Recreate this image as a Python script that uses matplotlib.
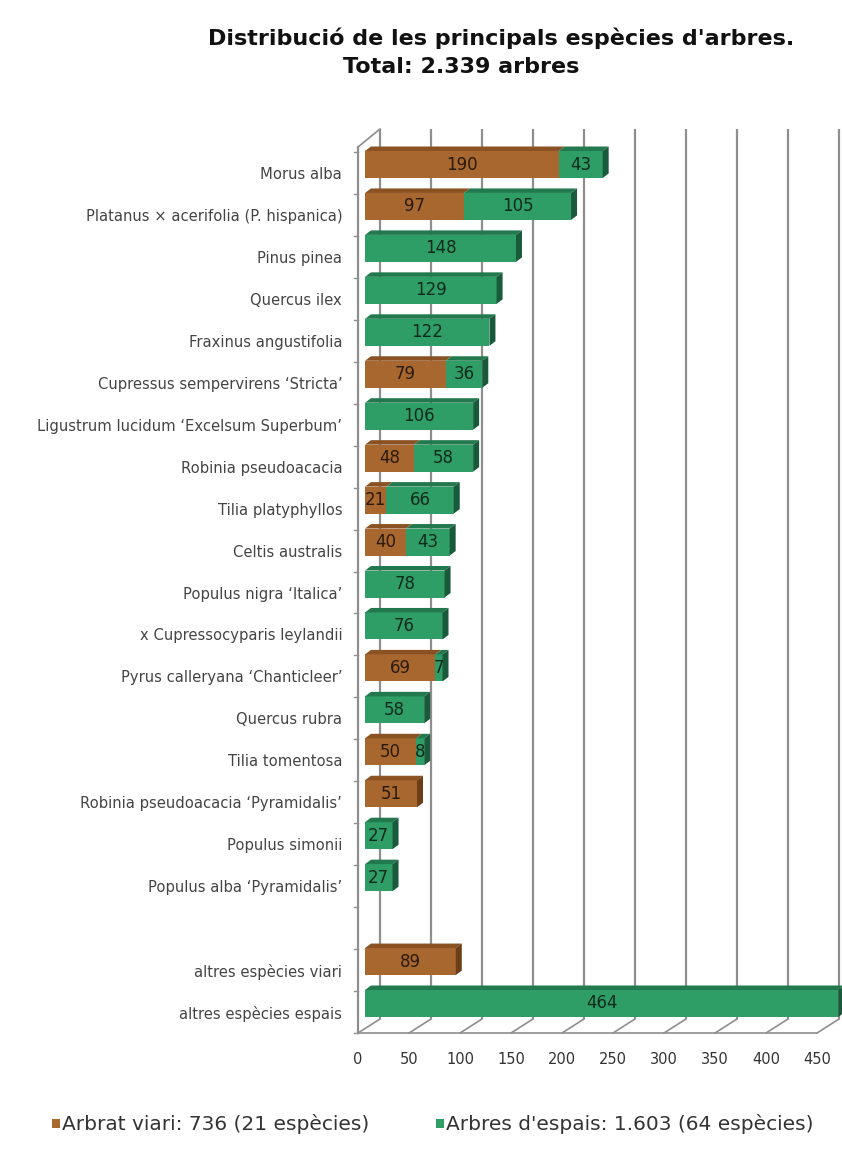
import numpy as np
import matplotlib
matplotlib.use("Agg")
import matplotlib.pyplot as plt
from matplotlib.patches import Polygon

# ---------------- data ----------------
categories = [
    "Morus alba",
    "Platanus × acerifolia (P. hispanica)",
    "Pinus pinea",
    "Quercus ilex",
    "Fraxinus angustifolia",
    "Cupressus sempervirens ‘Stricta’",
    "Ligustrum lucidum ‘Excelsum Superbum’",
    "Robinia pseudoacacia",
    "Tilia platyphyllos",
    "Celtis australis",
    "Populus nigra ‘Italica’",
    "x Cupressocyparis leylandii",
    "Pyrus calleryana ‘Chanticleer’",
    "Quercus rubra",
    "Tilia tomentosa",
    "Robinia pseudoacacia ‘Pyramidalis’",
    "Populus simonii",
    "Populus alba ‘Pyramidalis’",
    "",
    "altres espècies viari",
    "altres espècies espais",
]
viari = [190, 97, 0, 0, 0, 79, 0, 48, 21, 40, 0, 0, 69, 0, 50, 51, 0, 0, 0, 89, 0]
espais = [43, 105, 148, 129, 122, 36, 106, 58, 66, 43, 78, 76, 7, 58, 8, 0, 27, 27, 0, 0, 464]
xticks = [0, 50, 100, 150, 200, 250, 300, 350, 400, 450]
title_lines = ["Distribució de les principals espècies d'arbres.", "Total: 2.339 arbres"]
legend_labels = ["Arbrat viari: 736 (21 espècies)", "Arbres d'espais: 1.603 (64 espècies)"]

# ---------------- style ----------------
BROWN, BROWN_TOP, BROWN_SIDE = "#A8672F", "#8A5223", "#6A3E18"
GREEN, GREEN_TOP, GREEN_SIDE = "#2E9E66", "#22794D", "#185A39"
GRID = "#8E8E8E"
FONT = "DejaVu Sans"
plt.rcParams["font.family"] = [FONT]

W, H = 842, 1156
fig = plt.figure(figsize=(W / 100, H / 100), dpi=100)
fig.patch.set_facecolor("white")

AX_L, AX_R, AX_T, AX_B = 345, 842, 115, 1045
ax = fig.add_axes([AX_L / W, 1 - AX_B / H, (AX_R - AX_L) / W, (AX_B - AX_T) / H])

X0_PX, SX = 365, 1.02     # bar origin pixel, px per unit
Y0_PX, SY = 173, 41.95    # first category pixel, px per category


def px2x(px):
    return (px - X0_PX) / SX


def px2y(py):
    return (py - Y0_PX) / SY


ax.set_xlim(px2x(AX_L), px2x(AX_R))
ax.set_ylim(px2y(AX_B), px2y(AX_T))
for s in ax.spines.values():
    s.set_visible(False)
ax.set_xticks([])

n = len(categories)
pos = np.arange(n)

# ---------------- 3D frame ----------------
fx0, bx0 = px2x(358), px2x(380)
yf_floor, yb_floor = px2y(1033), px2y(1019)
yf_top, yb_top = px2y(147), px2y(129)
lw = 1.6
for v in xticks:
    ax.plot([bx0 + v, bx0 + v], [yb_floor, yb_top], color=GRID, lw=lw, zorder=1,
            solid_capstyle="butt", clip_on=False)
    ax.plot([fx0 + v, bx0 + v], [yf_floor, yb_floor], color=GRID, lw=1.2, zorder=1, clip_on=False)
ax.plot([fx0, fx0 + xticks[-1]], [yf_floor, yf_floor], color=GRID, lw=1.2, zorder=1, clip_on=False)
ax.plot([fx0, fx0], [yf_top, yf_floor], color=GRID, lw=lw, zorder=1, clip_on=False)
ax.plot([fx0, bx0], [yf_top, yb_top], color=GRID, lw=1.2, zorder=1, clip_on=False)
for i in range(-1, n):
    ax.plot([fx0 - 4 / SX, fx0], [i + 0.5, i + 0.5], color=GRID, lw=1.0, zorder=1, clip_on=False)

# ---------------- bars ----------------
viari_a = np.array(viari, dtype=float)
espais_a = np.array(espais, dtype=float)
yb = pos - 8.5 / SY
h = 27 / SY
ax.barh(yb, viari_a, height=h, left=0, color=BROWN, linewidth=0, zorder=3)
ax.barh(yb, espais_a, height=h, left=viari_a, color=GREEN, linewidth=0, zorder=3)

ddx, ddy = 6 / SX, -4.5 / SY
for i in range(n):
    a, b = viari_a[i], espais_a[i]
    top = yb[i] - h / 2
    bot = yb[i] + h / 2
    segs = []
    if a > 0:
        segs.append((0, a, BROWN_TOP, BROWN_SIDE))
    if b > 0:
        segs.append((a, a + b, GREEN_TOP, GREEN_SIDE))
    for (x0, x1, ctop, cside) in segs:
        ax.add_patch(Polygon([(x0, top), (x1, top), (x1 + ddx, top + ddy), (x0 + ddx, top + ddy)],
                             closed=True, facecolor=ctop, edgecolor="none", zorder=3))
    if segs:
        x1, cside = segs[-1][1], segs[-1][3]
        ax.add_patch(Polygon([(x1, top), (x1 + ddx, top + ddy), (x1 + ddx, bot + ddy), (x1, bot)],
                             closed=True, facecolor=cside, edgecolor="none", zorder=3))
    if a > 0:
        ax.text(a / 2, yb[i], f"{int(a)}", ha="center", va="center", fontsize=12,
                color="#2a1a0a", zorder=5)
    if b > 0:
        ax.text(a + b / 2, yb[i], f"{int(b)}", ha="center", va="center", fontsize=12,
                color="#0f2a1a", zorder=5)

# ---------------- labels ----------------
ax.set_yticks(pos)
ax.set_yticklabels(categories, fontsize=10.6, color="#444444")
ax.tick_params(axis="y", length=0, pad=2)

for v in xticks:
    ax.text(fx0 + v, px2y(1060), f"{v}", ha="center", va="center", fontsize=10.5,
            color="#333333", clip_on=False)

# ---------------- title ----------------
fig.text(208 / W, 1 - 38 / H, title_lines[0], ha="left", va="center", fontsize=16,
         fontweight="bold", color="#111111")
fig.text(343 / W, 1 - 67 / H, title_lines[1], ha="left", va="center", fontsize=16,
         fontweight="bold", color="#111111")

# ---------------- legend ----------------
for (sx, color, label) in [(52, BROWN, legend_labels[0]), (436, GREEN, legend_labels[1])]:
    fig.patches.append(plt.Rectangle((sx / W, 1 - 1128 / H), 8 / W, 9 / H, transform=fig.transFigure,
                                     facecolor=color, edgecolor="none"))
    fig.text((sx + 10) / W, 1 - 1124 / H, label, ha="left", va="center", fontsize=14.5,
             color="#333333")

fig.savefig("out.png", dpi=100, facecolor="white")
